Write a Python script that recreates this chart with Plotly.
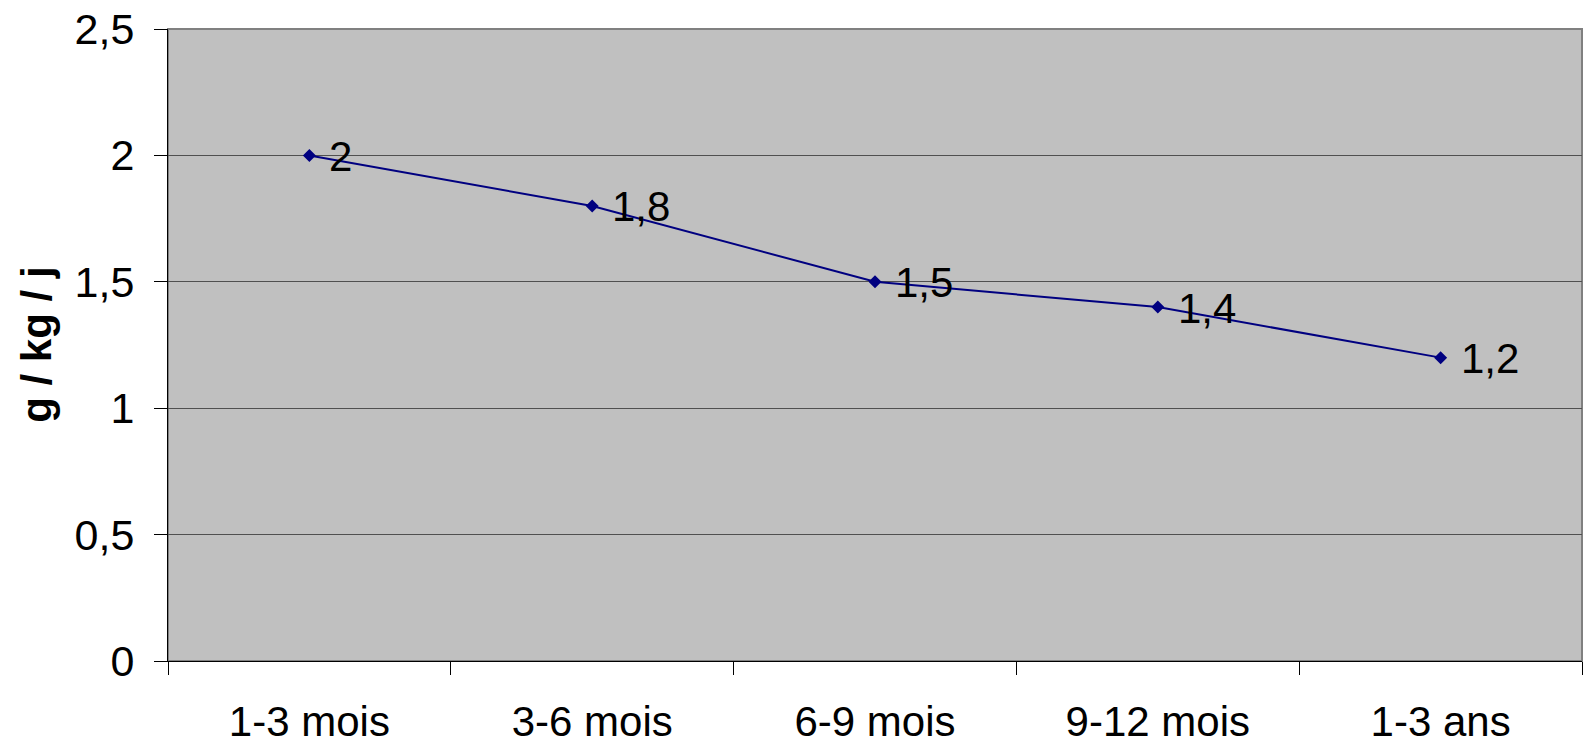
import plotly.graph_objects as go

categories = ["1-3 mois", "3-6 mois", "6-9 mois", "9-12 mois", "1-3 ans"]
values = [2, 1.8, 1.5, 1.4, 1.2]
value_labels = ["2", "1,8", "1,5", "1,4", "1,2"]
y_ticks = [0, 0.5, 1, 1.5, 2, 2.5]
y_tick_labels = ["0", "0,5", "1", "1,5", "2", "2,5"]
y_title = "g / kg / j"

FONT = "Liberation Sans, Arial, sans-serif"
NAVY = "#000080"

fig = go.Figure()
fig.add_trace(go.Scatter(
    x=categories, y=values, mode="lines+markers",
    line=dict(color=NAVY, width=2),
    marker=dict(symbol="diamond", size=10, color=NAVY),
    hoverinfo="skip", showlegend=False,
))

for c, v, t in zip(categories, values, value_labels):
    fig.add_annotation(x=c, y=v, text=t, showarrow=False, xanchor="left",
                       yanchor="middle", xshift=18, yshift=-1,
                       font=dict(family=FONT, size=42, color="black"))

fig.add_annotation(xref="paper", yref="paper", x=-0.0935, y=0.5,
                   text="<b>" + y_title + "</b>", textangle=-90, showarrow=False,
                   xanchor="center", yanchor="middle",
                   font=dict(family=FONT, size=42, color="black"))

fig.add_shape(type="rect", xref="paper", yref="paper", x0=0, x1=1, y0=0, y1=1,
              line=dict(color="#808080", width=2), layer="below")

fig.update_layout(
    width=1586, height=745,
    margin=dict(l=168, r=4, t=29, b=84),
    paper_bgcolor="white", plot_bgcolor="#C0C0C0",
    font=dict(family=FONT, size=42, color="black"),
    xaxis=dict(
        type="category", range=[-0.5, 4.5], tickson="boundaries",
        ticks="outside", ticklen=13, tickcolor="black", tickwidth=1,
        showline=True, linecolor="black", linewidth=1,
        showgrid=False, zeroline=False, automargin=False,
        tickfont=dict(family=FONT, size=42), ticklabelstandoff=24,
    ),
    yaxis=dict(
        range=[0, 2.5], tickvals=y_ticks, ticktext=y_tick_labels,
        ticks="outside", ticklen=13, tickcolor="black", tickwidth=1,
        showline=True, linecolor="black", linewidth=1,
        showgrid=True, gridcolor="#505050", gridwidth=1, zeroline=False,
        automargin=False,
        tickfont=dict(family=FONT, size=43), ticklabelstandoff=11,
    ),
)

fig.write_html("out.html")
